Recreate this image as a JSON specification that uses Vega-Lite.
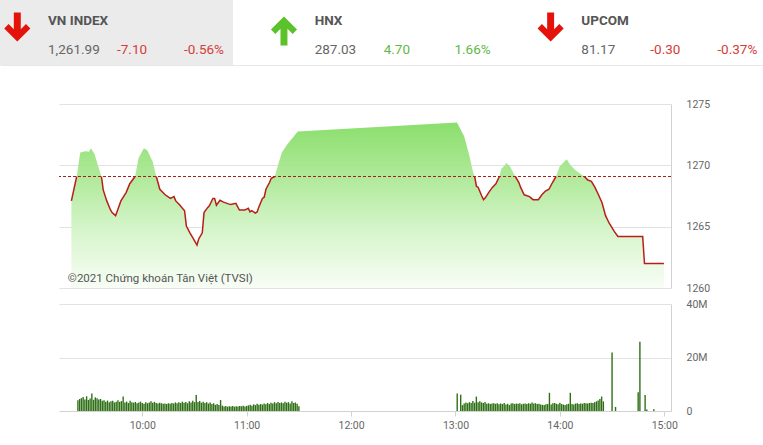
{
  "$schema": "https://vega.github.io/schema/vega-lite/v6.json",
  "padding": 0,
  "background": "white",
  "config": {
    "font": "Roboto",
    "view": {"stroke": null},
    "axis": {"labelFont": "Roboto", "labelColor": "#666666", "labelFontSize": 10.5, "gridColor": "#e2e2e2", "domainColor": "#d2d2d2", "tickColor": "#d2d2d2"}
  },
  "spacing": 34,
  "vconcat": [
    {
      "width": 800,
      "height": 65,
      "data": {"values": [
        {"idx": "VN INDEX", "value": "1,261.99", "change": "-7.10", "pct": "-0.56%", "dir": "down"},
        {"idx": "HNX", "value": "287.03", "change": "4.70", "pct": "1.66%", "dir": "up"},
        {"idx": "UPCOM", "value": "81.17", "change": "-0.30", "pct": "-0.37%", "dir": "down"}
      ]},
      "resolve": {"scale": {"color": "independent"}},
      "layer": [
        {
          "transform": [{"filter": "datum.idx == 'VN INDEX'"}],
          "mark": {"type": "rect", "color": "#ebebeb"},
          "encoding": {
            "x": {"field": "idx", "type": "nominal", "bandPosition": 0, "scale": {"domain": ["VN INDEX", "HNX", "UPCOM"], "paddingInner": 0, "paddingOuter": 0}, "axis": {"labels": false, "ticks": false, "grid": false, "domain": true, "domainColor": "#e8e8e8", "title": null}},
            "x2": {"field": "idx", "bandPosition": 0.874}
          }
        },
        {
          "mark": {"type": "point", "filled": true, "opacity": 1, "size": 841, "xOffset": 17.3, "yOffset": -3.5},
          "encoding": {
            "x": {"field": "idx", "type": "nominal", "bandPosition": 0},
            "shape": {"field": "dir", "type": "nominal", "legend": null, "scale": {"domain": ["down", "up"], "range": ["M0,0.86L0.9,-0.04L0.6,-0.34L0.24,0.02L0.24,-1.14L-0.24,-1.14L-0.24,0.02L-0.6,-0.34L-0.9,-0.04Z", "M0,-0.86L0.9,0.04L0.6,0.34L0.24,-0.02L0.24,1.14L-0.24,1.14L-0.24,-0.02L-0.6,0.34L-0.9,0.04Z"]}},
            "color": {"field": "dir", "type": "nominal", "legend": null, "scale": {"domain": ["down", "up"], "range": ["#e3120b", "#5cc22c"]}}
          }
        },
        {
          "mark": {"type": "text", "align": "left", "baseline": "alphabetic", "fontSize": 13.5, "fontWeight": "bold", "color": "#555555", "xOffset": 48, "yOffset": -7.5},
          "encoding": {
            "x": {"field": "idx", "type": "nominal", "bandPosition": 0},
            "text": {"field": "idx"}
          }
        },
        {
          "mark": {"type": "text", "align": "left", "baseline": "alphabetic", "fontSize": 13.5, "color": "#666666", "xOffset": 48, "yOffset": 21.5},
          "encoding": {
            "x": {"field": "idx", "type": "nominal", "bandPosition": 0},
            "text": {"field": "value"}
          }
        },
        {
          "mark": {"type": "text", "align": "left", "baseline": "alphabetic", "fontSize": 13.5, "xOffset": 117, "yOffset": 21.5},
          "encoding": {
            "x": {"field": "idx", "type": "nominal", "bandPosition": 0},
            "text": {"field": "change"},
            "color": {"field": "dir", "type": "nominal", "legend": null, "scale": {"domain": ["down", "up"], "range": ["#d63c37", "#5fb946"]}}
          }
        },
        {
          "mark": {"type": "text", "align": "right", "baseline": "alphabetic", "fontSize": 13.5, "xOffset": 224, "yOffset": 21.5},
          "encoding": {
            "x": {"field": "idx", "type": "nominal", "bandPosition": 0},
            "text": {"field": "pct"},
            "color": {"field": "dir", "type": "nominal", "legend": null, "scale": {"domain": ["down", "up"], "range": ["#d63c37", "#5fb946"]}}
          }
        }
      ]
    },
    {
      "spacing": 0,
      "hconcat": [
        {"width": 58, "height": 1, "data": {"values": [{}]}, "mark": {"type": "point", "opacity": 0}},
        {
          "spacing": 5,
          "vconcat": [
            {
              "width": 612,
              "height": 184,
              "data": {"values": [
                {"min": 22, "p": 1267.1, "s": 1}, {"min": 25, "p": 1269.09, "s": 1},
                {"min": 27, "p": 1271.05}, {"min": 30, "p": 1271.15}, {"min": 32, "p": 1271.1}, {"min": 33, "p": 1271.4}, {"min": 35, "p": 1270.95}, {"min": 37, "p": 1270.0},
                {"min": 39, "p": 1269.09, "s": 2}, {"min": 40, "p": 1268.0, "s": 2}, {"min": 42, "p": 1267.1, "s": 2}, {"min": 44, "p": 1266.4, "s": 2}, {"min": 45, "p": 1266.15, "s": 2},
                {"min": 47, "p": 1265.9, "s": 2}, {"min": 48, "p": 1266.3, "s": 2}, {"min": 50, "p": 1267.1, "s": 2}, {"min": 53, "p": 1267.8, "s": 2}, {"min": 55, "p": 1268.5, "s": 2},
                {"min": 58, "p": 1269.09, "s": 2},
                {"min": 60, "p": 1270.6}, {"min": 63, "p": 1271.4}, {"min": 65, "p": 1271.2}, {"min": 68, "p": 1270.3},
                {"min": 70, "p": 1269.09, "s": 3}, {"min": 72, "p": 1268.05, "s": 3}, {"min": 75, "p": 1267.6, "s": 3}, {"min": 78, "p": 1267.3, "s": 3}, {"min": 80, "p": 1267.45, "s": 3},
                {"min": 81, "p": 1267.1, "s": 3}, {"min": 83, "p": 1266.8, "s": 3}, {"min": 86, "p": 1266.3, "s": 3}, {"min": 87, "p": 1265.05, "s": 3}, {"min": 89, "p": 1264.5, "s": 3},
                {"min": 91, "p": 1264.0, "s": 3}, {"min": 93, "p": 1263.5, "s": 3}, {"min": 94, "p": 1264.0, "s": 3}, {"min": 96, "p": 1264.5, "s": 3}, {"min": 97, "p": 1266.15, "s": 3},
                {"min": 99, "p": 1266.55, "s": 3}, {"min": 100, "p": 1266.7, "s": 3}, {"min": 102, "p": 1267.3, "s": 3}, {"min": 103, "p": 1267.3, "s": 3}, {"min": 104, "p": 1266.75, "s": 3},
                {"min": 106, "p": 1267.15, "s": 3}, {"min": 108, "p": 1267.0, "s": 3}, {"min": 112, "p": 1266.8, "s": 3}, {"min": 115, "p": 1266.9, "s": 3}, {"min": 117, "p": 1266.35, "s": 3},
                {"min": 120, "p": 1266.35, "s": 3}, {"min": 122, "p": 1266.5, "s": 3}, {"min": 123, "p": 1266.2, "s": 3}, {"min": 124, "p": 1266.3, "s": 3}, {"min": 126, "p": 1266.1, "s": 3},
                {"min": 127, "p": 1266.2, "s": 3}, {"min": 128, "p": 1266.6, "s": 3}, {"min": 130, "p": 1267.3, "s": 3}, {"min": 131, "p": 1267.4, "s": 3}, {"min": 132, "p": 1268.05, "s": 3},
                {"min": 134, "p": 1268.6, "s": 3}, {"min": 135, "p": 1268.95, "s": 3}, {"min": 137, "p": 1269.09, "s": 3},
                {"min": 139, "p": 1270.1}, {"min": 141, "p": 1271.05}, {"min": 144, "p": 1271.7}, {"min": 150, "p": 1272.75},
                {"min": 240, "p": 1273.5}, {"min": 244, "p": 1272.4}, {"min": 247, "p": 1270.8}, {"min": 249, "p": 1269.5},
                {"min": 250, "p": 1269.09, "s": 4}, {"min": 251, "p": 1268.3, "s": 4}, {"min": 252, "p": 1268.2, "s": 4}, {"min": 254, "p": 1267.5, "s": 4}, {"min": 255, "p": 1267.2, "s": 4},
                {"min": 256, "p": 1267.35, "s": 4}, {"min": 258, "p": 1267.8, "s": 4}, {"min": 260, "p": 1268.2, "s": 4}, {"min": 262, "p": 1268.5, "s": 4}, {"min": 264, "p": 1269.09, "s": 4},
                {"min": 265, "p": 1269.7}, {"min": 267, "p": 1270.0}, {"min": 268, "p": 1270.2}, {"min": 270, "p": 1269.9},
                {"min": 273, "p": 1269.09, "s": 5}, {"min": 275, "p": 1268.6, "s": 5}, {"min": 276, "p": 1268.2, "s": 5}, {"min": 278, "p": 1267.6, "s": 5}, {"min": 281, "p": 1267.45, "s": 5},
                {"min": 283, "p": 1267.2, "s": 5}, {"min": 286, "p": 1267.2, "s": 5}, {"min": 288, "p": 1267.6, "s": 5}, {"min": 290, "p": 1267.9, "s": 5}, {"min": 292, "p": 1268.05, "s": 5},
                {"min": 294, "p": 1268.6, "s": 5}, {"min": 296, "p": 1269.09, "s": 5},
                {"min": 298, "p": 1269.9}, {"min": 300, "p": 1270.2}, {"min": 302, "p": 1270.5}, {"min": 304, "p": 1270.05}, {"min": 307, "p": 1269.6}, {"min": 310, "p": 1269.3},
                {"min": 312, "p": 1269.09, "s": 6}, {"min": 314, "p": 1268.8, "s": 6}, {"min": 316, "p": 1268.7, "s": 6}, {"min": 318, "p": 1268.2, "s": 6}, {"min": 320, "p": 1267.6, "s": 6},
                {"min": 322, "p": 1266.95, "s": 6}, {"min": 324, "p": 1265.9, "s": 6}, {"min": 326, "p": 1265.3, "s": 6}, {"min": 329, "p": 1264.6, "s": 6}, {"min": 331, "p": 1264.2, "s": 6},
                {"min": 345, "p": 1264.2, "s": 6}, {"min": 346, "p": 1261.99, "s": 6}, {"min": 357, "p": 1261.99, "s": 6}
              ]},
              "layer": [
                {
                  "mark": {"type": "area", "line": false, "color": {"gradient": "linear", "x1": 0, "y1": 0, "x2": 0, "y2": 1, "stops": [
                    {"offset": 0, "color": "#8bde6d"},
                    {"offset": 0.35, "color": "#b2ea9d"},
                    {"offset": 0.65, "color": "#d6f5cb"},
                    {"offset": 1, "color": "#f8fdf6"}
                  ]}},
                  "encoding": {
                    "x": {"field": "min", "type": "quantitative", "scale": {"domain": [15, 361], "nice": false, "zero": false}, "axis": null},
                    "y": {"field": "p", "type": "quantitative", "scale": {"domain": [1260, 1275], "zero": false, "nice": false}, "axis": {"orient": "right", "values": [1260, 1265, 1270, 1275], "format": "d", "ticks": false, "labelPadding": 15, "grid": true, "domain": true, "title": null}},
                    "y2": {"datum": 1260}
                  }
                },
                {
                  "transform": [{"filter": "isValid(datum.s)"}],
                  "mark": {"type": "line", "color": "#b81f18", "strokeWidth": 1.5},
                  "encoding": {
                    "x": {"field": "min", "type": "quantitative"},
                    "y": {"field": "p", "type": "quantitative"},
                    "detail": {"field": "s", "type": "nominal"}
                  }
                },
                {
                  "data": {"values": [{}]},
                  "mark": {"type": "rule", "color": "#a51d17", "strokeDash": [3, 2], "strokeWidth": 1},
                  "encoding": {"y": {"datum": 1269.09}}
                },
                {
                  "data": {"values": [{}]},
                  "mark": {"type": "text", "align": "left", "baseline": "middle", "fontSize": 11.5, "color": "#555555"},
                  "encoding": {
                    "x": {"datum": 20},
                    "y": {"datum": 1260.7},
                    "text": {"value": "©2021 Chứng khoán Tân Việt (TVSI)"}
                  }
                }
              ]
            },
            {
              "width": 612,
              "height": 107,
              "data": {"values": [
                {"min": 23, "v": 4.0}, {"min": 24, "v": 4.5}, {"min": 25, "v": 4.8}, {"min": 26, "v": 5.2}, {"min": 27, "v": 4.3}, {"min": 28, "v": 5.5}, {"min": 29, "v": 4.1}, {"min": 30, "v": 4.7},
                {"min": 31, "v": 6.5}, {"min": 32, "v": 4.2}, {"min": 33, "v": 5.1}, {"min": 34, "v": 4.8}, {"min": 35, "v": 4.3}, {"min": 36, "v": 4.5}, {"min": 37, "v": 3.8}, {"min": 38, "v": 4.0},
                {"min": 39, "v": 3.5}, {"min": 40, "v": 3.9}, {"min": 41, "v": 3.3}, {"min": 42, "v": 3.6}, {"min": 43, "v": 3.8}, {"min": 44, "v": 3.2}, {"min": 45, "v": 3.5}, {"min": 46, "v": 4.0},
                {"min": 47, "v": 3.4}, {"min": 48, "v": 3.7}, {"min": 49, "v": 5.4}, {"min": 50, "v": 3.2}, {"min": 51, "v": 3.5}, {"min": 52, "v": 3.0}, {"min": 53, "v": 3.8}, {"min": 54, "v": 3.3},
                {"min": 55, "v": 3.1}, {"min": 56, "v": 3.4}, {"min": 57, "v": 2.9}, {"min": 58, "v": 3.2}, {"min": 59, "v": 3.5}, {"min": 60, "v": 3.0}, {"min": 61, "v": 2.7}, {"min": 62, "v": 3.3},
                {"min": 63, "v": 2.9}, {"min": 64, "v": 3.2}, {"min": 65, "v": 3.6}, {"min": 66, "v": 3.1}, {"min": 67, "v": 3.4}, {"min": 68, "v": 3.0}, {"min": 69, "v": 2.8}, {"min": 70, "v": 3.1},
                {"min": 71, "v": 2.9}, {"min": 72, "v": 2.7}, {"min": 73, "v": 2.8}, {"min": 74, "v": 2.6}, {"min": 75, "v": 2.9}, {"min": 76, "v": 2.7}, {"min": 77, "v": 3.0}, {"min": 78, "v": 2.8},
                {"min": 79, "v": 3.2}, {"min": 80, "v": 2.9}, {"min": 81, "v": 3.3}, {"min": 82, "v": 3.0}, {"min": 83, "v": 3.5}, {"min": 84, "v": 3.1}, {"min": 85, "v": 3.4}, {"min": 86, "v": 2.9},
                {"min": 87, "v": 3.6}, {"min": 88, "v": 3.2}, {"min": 89, "v": 3.8}, {"min": 90, "v": 3.3}, {"min": 91, "v": 6.0}, {"min": 92, "v": 3.4}, {"min": 93, "v": 3.7}, {"min": 94, "v": 3.1},
                {"min": 95, "v": 3.5}, {"min": 96, "v": 3.0}, {"min": 97, "v": 3.3}, {"min": 98, "v": 2.8}, {"min": 99, "v": 3.2}, {"min": 100, "v": 2.6}, {"min": 101, "v": 2.9}, {"min": 102, "v": 2.3},
                {"min": 103, "v": 2.6}, {"min": 104, "v": 2.2}, {"min": 105, "v": 4.1}, {"min": 106, "v": 2.0}, {"min": 107, "v": 1.7}, {"min": 108, "v": 1.9}, {"min": 109, "v": 1.6}, {"min": 110, "v": 1.8},
                {"min": 111, "v": 1.7}, {"min": 112, "v": 1.9}, {"min": 113, "v": 1.6}, {"min": 114, "v": 1.8}, {"min": 115, "v": 1.7}, {"min": 116, "v": 1.9}, {"min": 117, "v": 1.8}, {"min": 118, "v": 2.0},
                {"min": 119, "v": 1.7}, {"min": 120, "v": 1.9}, {"min": 121, "v": 2.1}, {"min": 122, "v": 2.3}, {"min": 123, "v": 2.0}, {"min": 124, "v": 2.5}, {"min": 125, "v": 2.2}, {"min": 126, "v": 2.7},
                {"min": 127, "v": 2.3}, {"min": 128, "v": 2.6}, {"min": 129, "v": 2.4}, {"min": 130, "v": 2.8}, {"min": 131, "v": 2.5}, {"min": 132, "v": 3.0}, {"min": 133, "v": 2.6}, {"min": 134, "v": 3.1},
                {"min": 135, "v": 2.8}, {"min": 136, "v": 3.3}, {"min": 137, "v": 2.9}, {"min": 138, "v": 3.4}, {"min": 139, "v": 3.0}, {"min": 140, "v": 3.2}, {"min": 141, "v": 2.9}, {"min": 142, "v": 3.5},
                {"min": 143, "v": 3.1}, {"min": 144, "v": 3.3}, {"min": 145, "v": 2.8}, {"min": 146, "v": 3.6}, {"min": 147, "v": 3.0}, {"min": 148, "v": 3.2}, {"min": 149, "v": 2.7}, {"min": 150, "v": 1.8},
                {"min": 241, "v": 6.5}, {"min": 243, "v": 6.1}, {"min": 244, "v": 2.2}, {"min": 245, "v": 2.8}, {"min": 246, "v": 3.2}, {"min": 247, "v": 2.9}, {"min": 248, "v": 3.3}, {"min": 249, "v": 3.0},
                {"min": 250, "v": 3.7}, {"min": 251, "v": 3.1}, {"min": 252, "v": 5.4}, {"min": 253, "v": 3.3}, {"min": 254, "v": 3.6}, {"min": 255, "v": 3.2}, {"min": 256, "v": 3.0}, {"min": 257, "v": 3.4},
                {"min": 258, "v": 2.7}, {"min": 259, "v": 2.9}, {"min": 260, "v": 2.6}, {"min": 261, "v": 2.8}, {"min": 262, "v": 2.9}, {"min": 263, "v": 2.7}, {"min": 264, "v": 2.9}, {"min": 265, "v": 2.5},
                {"min": 266, "v": 2.8}, {"min": 267, "v": 2.6}, {"min": 268, "v": 3.0}, {"min": 269, "v": 2.4}, {"min": 270, "v": 2.7}, {"min": 271, "v": 2.2}, {"min": 272, "v": 2.8}, {"min": 273, "v": 2.9},
                {"min": 274, "v": 2.6}, {"min": 275, "v": 2.8}, {"min": 276, "v": 2.7}, {"min": 277, "v": 2.9}, {"min": 278, "v": 2.5}, {"min": 279, "v": 2.7}, {"min": 280, "v": 2.8}, {"min": 281, "v": 2.6},
                {"min": 282, "v": 2.9}, {"min": 283, "v": 2.7}, {"min": 284, "v": 3.2}, {"min": 285, "v": 2.8}, {"min": 286, "v": 2.9}, {"min": 287, "v": 2.6}, {"min": 288, "v": 2.7}, {"min": 289, "v": 2.4},
                {"min": 290, "v": 2.3}, {"min": 291, "v": 2.2}, {"min": 292, "v": 2.5}, {"min": 293, "v": 2.6}, {"min": 294, "v": 6.8}, {"min": 295, "v": 2.4}, {"min": 296, "v": 2.9}, {"min": 297, "v": 3.0},
                {"min": 298, "v": 2.7}, {"min": 299, "v": 2.5}, {"min": 300, "v": 3.1}, {"min": 301, "v": 2.6}, {"min": 302, "v": 2.4}, {"min": 303, "v": 2.2}, {"min": 304, "v": 2.5}, {"min": 305, "v": 2.7},
                {"min": 306, "v": 6.8}, {"min": 307, "v": 2.6}, {"min": 308, "v": 2.4}, {"min": 309, "v": 2.8}, {"min": 310, "v": 2.9}, {"min": 311, "v": 2.6}, {"min": 312, "v": 2.8}, {"min": 313, "v": 2.7},
                {"min": 314, "v": 3.0}, {"min": 315, "v": 2.9}, {"min": 316, "v": 2.8}, {"min": 317, "v": 3.0}, {"min": 318, "v": 3.1}, {"min": 319, "v": 3.0}, {"min": 320, "v": 3.3}, {"min": 321, "v": 3.6},
                {"min": 322, "v": 3.9}, {"min": 323, "v": 4.5}, {"min": 324, "v": 5.4}, {"min": 325, "v": 3.6},
                {"min": 330, "v": 21.9}, {"min": 332, "v": 1.5}, {"min": 345, "v": 7.0}, {"min": 346, "v": 25.9}, {"min": 349, "v": 6.0}, {"min": 350, "v": 0.6}, {"min": 354, "v": 0.7}
              ]},
              "mark": {"type": "bar", "orient": "vertical", "width": 1.4, "color": "#2f7016"},
              "encoding": {
                "x": {"field": "min", "type": "quantitative", "scale": {"domain": [15, 361], "nice": false, "zero": false}, "axis": {"values": [60, 120, 180, 240, 300, 360], "labelExpr": "(9 + datum.value / 60) + ':00'", "grid": false, "ticks": true, "tickSize": 5, "labelPadding": 4, "labelFlush": false, "domain": true, "title": null}},
                "y": {"field": "v", "type": "quantitative", "scale": {"domain": [0, 40], "nice": false}, "axis": {"orient": "right", "values": [0, 20, 40], "labelExpr": "datum.value == 0 ? '0' : datum.value + 'M'", "ticks": false, "labelPadding": 15, "grid": true, "domain": true, "title": null}}
              }
            }
          ]
        }
      ]
    }
  ]
}
